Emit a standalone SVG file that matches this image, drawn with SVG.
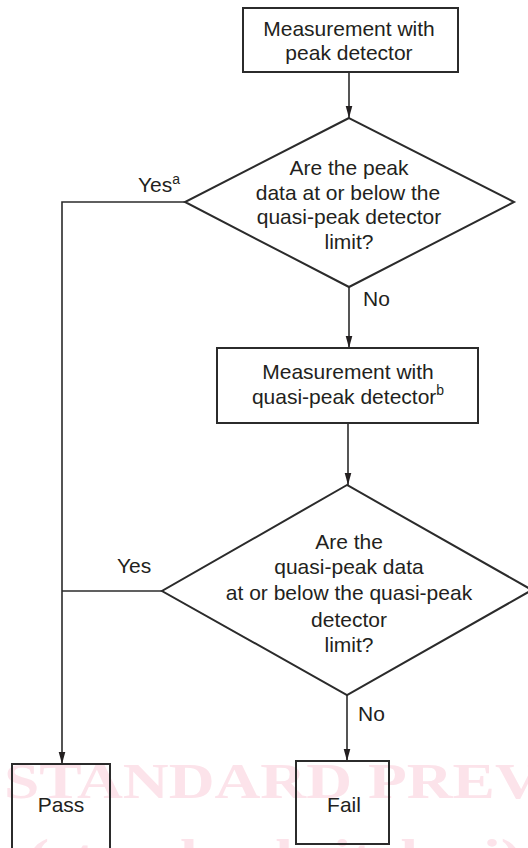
<svg xmlns="http://www.w3.org/2000/svg" width="528" height="848" viewBox="0 0 528 848">
<defs>
<style>
.wm{font-family:"Liberation Serif","Times New Roman",serif;font-weight:bold;font-size:50px;fill:#fce3ea}
.node{fill:none;stroke:#2b2b2b;stroke-width:2}
.t{font-family:"Liberation Sans",Arial,sans-serif;font-size:21px;fill:#231f20;text-anchor:middle}
.lbl{font-family:"Liberation Sans",Arial,sans-serif;font-size:21px;fill:#231f20}
.sup{font-size:14px}
.conn{fill:none;stroke:#2b2b2b;stroke-width:1.6}
</style>
<marker id="arr" markerUnits="userSpaceOnUse" markerWidth="12" markerHeight="22" refX="20" refY="5.5" orient="auto" viewBox="0 0 20 11">
<path d="M0,0 L20,5.5 L0,11 Z" fill="#231f20"/>
</marker>
</defs>
<rect width="528" height="848" fill="#fff"/>
<g id="watermark">
<text class="wm" transform="translate(4,798) scale(1.27,1)">STANDARD PREVIEW</text>
<text class="wm" transform="translate(28,874) scale(1.27,1)">(standards.iteh.ai)</text>
</g>
<g id="connectors">
<path class="conn" d="M349,72 V118" marker-end="url(#arr)"/>
<path class="conn" d="M349,287 V348" marker-end="url(#arr)"/>
<path class="conn" d="M348,423 V485" marker-end="url(#arr)"/>
<path class="conn" d="M185,202 H62 V764" marker-end="url(#arr)"/>
<path class="conn" d="M162,591 H62"/>
<path class="conn" d="M347,695 V761" marker-end="url(#arr)"/>
<text class="lbl" x="138" y="192">Yes<tspan class="sup" dy="-8">a</tspan></text>
<text class="lbl" x="363" y="306">No</text>
<text class="lbl" x="117" y="573">Yes</text>
<text class="lbl" x="358" y="721">No</text>
</g>
<g id="n1">
<rect class="node" x="243" y="8" width="215" height="64"/>
<text class="t" x="349" y="36">Measurement with</text>
<text class="t" x="349" y="60">peak detector</text>
</g>
<g id="d1">
<polygon class="node" points="349,118 185,202 349,287 514,202"/>
<text class="t" x="349" y="175">Are the peak</text>
<text class="t" x="348" y="200">data at or below the</text>
<text class="t" x="349" y="224">quasi-peak detector</text>
<text class="t" x="349" y="249">limit?</text>
</g>
<g id="n2">
<rect class="node" x="217" y="348" width="261" height="75"/>
<text class="t" x="348" y="379">Measurement with</text>
<text class="t" x="348" y="404">quasi-peak detector<tspan class="sup" dy="-9">b</tspan></text>
</g>
<g id="d2">
<polygon class="node" points="347,485 162,591 347,695 532,590"/>
<text class="t" x="349" y="549">Are the</text>
<text class="t" x="349" y="574">quasi-peak data</text>
<text class="t" x="349" y="600">at or below the quasi-peak</text>
<text class="t" x="349" y="627">detector</text>
<text class="t" x="349" y="652">limit?</text>
</g>
<g id="pass">
<rect class="node" x="12" y="764" width="98" height="90"/>
<text class="t" x="61" y="812">Pass</text>
</g>
<g id="fail">
<rect class="node" x="296" y="761" width="93" height="83"/>
<text class="t" x="344" y="812">Fail</text>
</g>
</svg>
